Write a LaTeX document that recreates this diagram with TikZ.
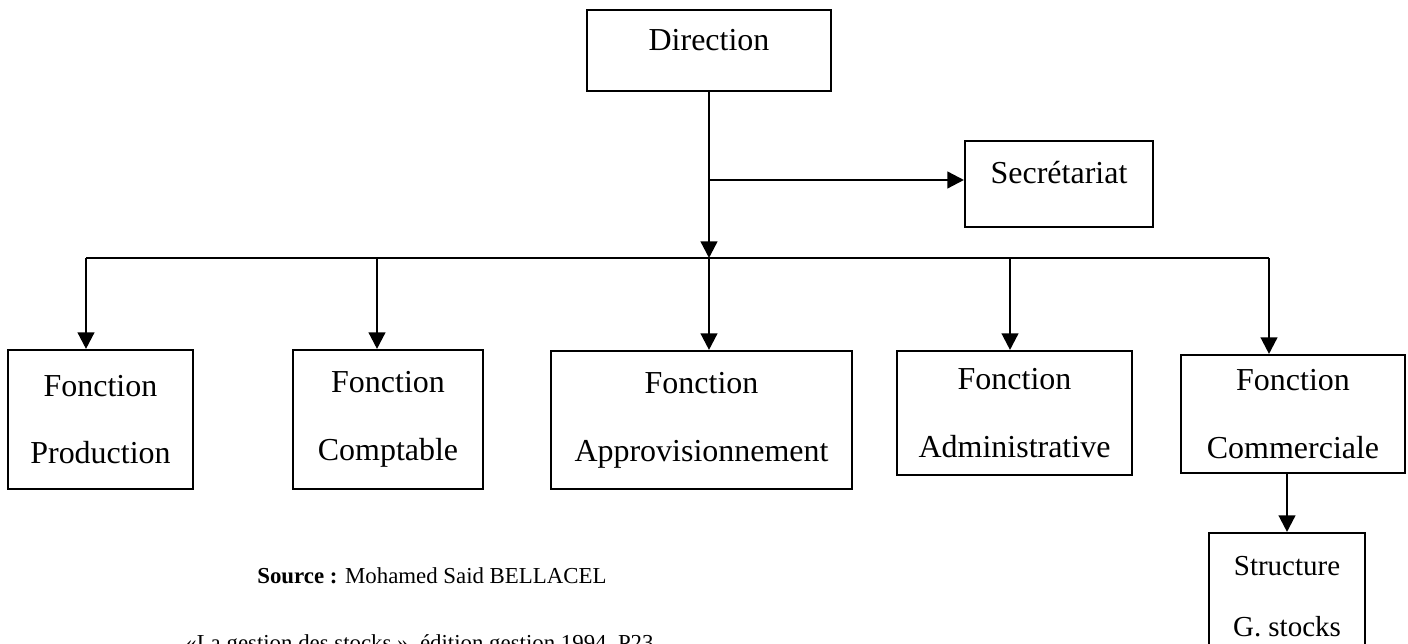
\documentclass[tikz,border=0pt]{standalone}
\usepackage{fontspec}
\setmainfont{Liberation Serif}
\usetikzlibrary{arrows.meta,positioning}

\begin{document}
\begin{tikzpicture}[x=0.02cm, y=-0.02cm,
  unit/.style={draw=black, line width=1.2pt, inner sep=0, align=center,
    font=\fontsize{18.2}{38.5}\selectfont},
  oneline/.style={unit, text height=10pt, text depth=10pt},
  small/.style={unit, font=\fontsize{16.5}{34.7}\selectfont},
  link/.style={line width=1.35pt, black},
  note/.style={anchor=base west, inner sep=0, font=\fontsize{13}{15.6}\selectfont},
  >={Triangle[length=0.33cm, width=0.33cm]}
]
\useasboundingbox (0,0) rectangle (1408,644);

% top: direction and secretariat
\node[oneline, minimum width=4.88cm, minimum height=1.62cm] (dir) at (709,50.5) {Direction};
\node[oneline, minimum width=3.76cm, minimum height=1.72cm] (sec) at (1059,184) {Secrétariat};

% the five functions
\node[unit, minimum width=3.7cm, minimum height=2.78cm] (prod) at (100.5,419.5) {Fonction\\Production};
\node[unit, minimum width=3.8cm, minimum height=2.78cm] (compt) at (388,419.5) {Fonction\\Comptable};
\node[unit, minimum width=6.02cm, minimum height=2.76cm] (appro) at (701.5,420) {Fonction\\Approvisionnement};
\node[unit, minimum width=4.7cm, minimum height=2.48cm] (admin) at (1014.5,413) {Fonction\\Administrative};
\node[unit, minimum width=4.48cm, minimum height=2.36cm] (comm) at (1293,414) {Fonction\\Commerciale};
\node[small, minimum width=3.12cm, minimum height=2.54cm] (struct) at (1287,596.5) {Structure\\G. stocks};

% source
\node[note] (src) at (257,583) {\textbf{Source :} Mohamed Said BELLACEL};
\node[note] (ref) at (185,650) {«La gestion des stocks », édition gestion 1994, P23};

% connectors
\coordinate (hub) at (709,258);
\coordinate (tosec) at (709,180);
\coordinate (dprod) at (86,258);
\coordinate (dcompt) at (377,258);
\coordinate (dadmin) at (1010,258);
\coordinate (dcomm) at (1269,258);
\draw[link,->] (dir.south) -- (hub);
\draw[link,->] (tosec) -- (tosec -| sec.west);
\draw[link] (dprod) -- (dcomm);
\foreach \d/\b in {dprod/prod, dcompt/compt, hub/appro, dadmin/admin, dcomm/comm}
  \draw[link,->] (\d) -- (\d |- \b.north);
\draw[link,->] (struct.north |- comm.south) -- (struct.north);
\end{tikzpicture}
\end{document}
